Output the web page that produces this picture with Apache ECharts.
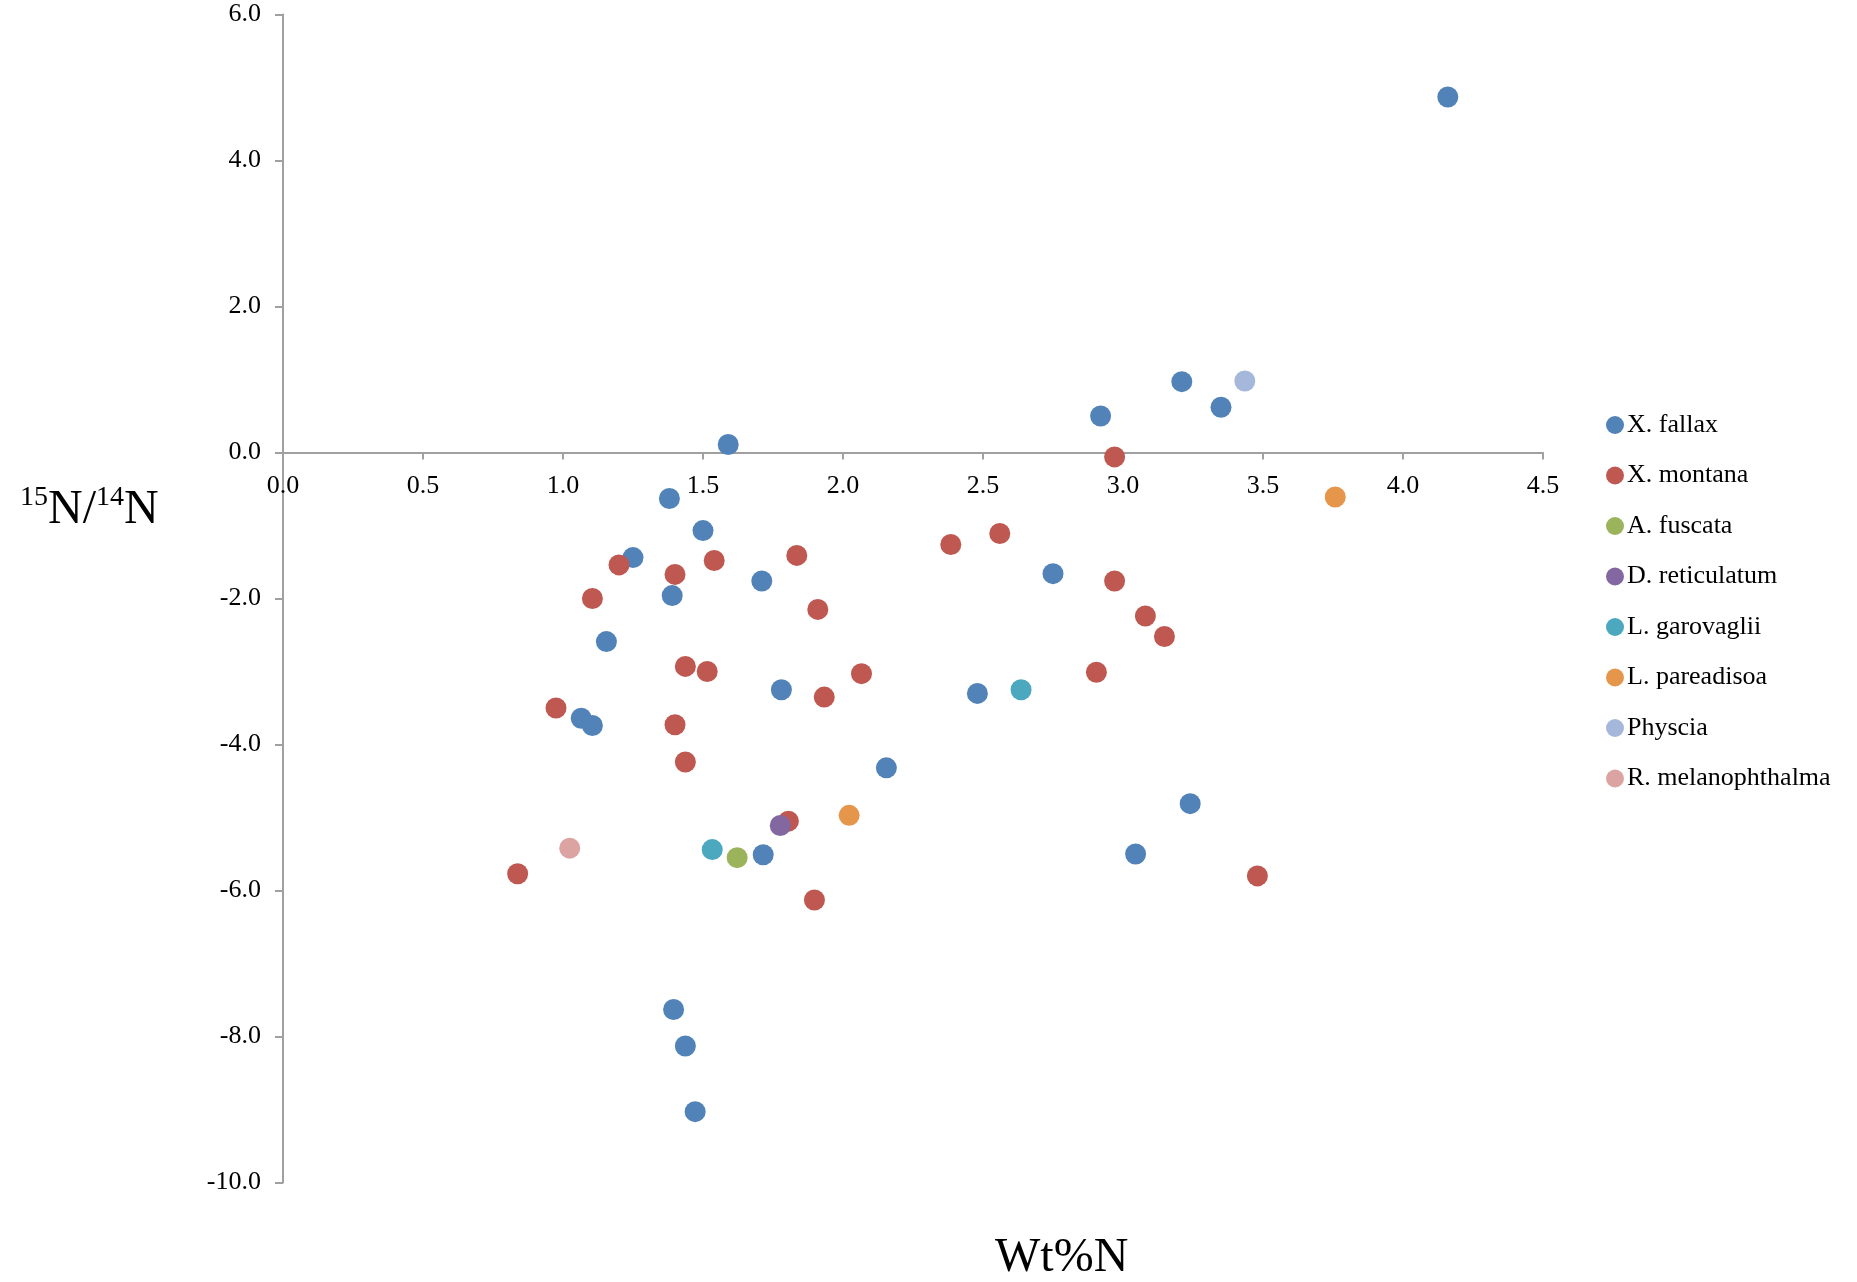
<!DOCTYPE html>
<html>
<head>
<meta charset="utf-8">
<title>15N/14N vs Wt%N</title>
<script src="https://cdn.jsdelivr.net/npm/echarts@6.0.0/dist/echarts.min.js"></script>
<style>
  html, body { margin: 0; padding: 0; background: #fff; }
  #chart { width: 1857px; height: 1282px; }
</style>
</head>
<body>
<div id="chart"></div>
<script>
// [Wt%N, 15N/14N]
const xFallax = [
  [4.16, 4.87], [3.21, 0.97], [2.92, 0.50], [3.35, 0.62], [1.59, 0.11],
  [1.38, -0.63], [1.50, -1.07], [1.25, -1.44], [1.39, -1.96], [1.71, -1.76],
  [2.75, -1.66], [1.155, -2.59], [1.78, -3.25], [2.48, -3.30], [1.065, -3.64],
  [1.105, -3.74], [2.155, -4.32], [3.24, -4.81], [3.045, -5.50], [1.715, -5.51],
  [1.395, -7.63], [1.437, -8.13], [1.472, -9.03]
]
const xMontana = [
  [2.97, -0.06], [2.385, -1.26], [2.56, -1.11], [1.835, -1.41], [1.54, -1.48],
  [1.20, -1.54], [1.40, -1.67], [1.105, -2.00], [1.91, -2.15], [2.97, -1.76],
  [3.08, -2.24], [3.148, -2.52], [2.905, -3.01], [1.437, -2.93], [1.515, -3.00],
  [2.066, -3.03], [1.933, -3.35], [0.975, -3.50], [1.40, -3.73], [1.437, -4.24],
  [1.805, -5.05], [0.838, -5.77], [1.898, -6.13], [3.48, -5.80]
]
const aFuscata = [[1.622, -5.55]]
const dReticulatum = [[1.776, -5.11]]
const lGarovaglii = [[1.533, -5.44], [2.636, -3.25]]
const lPareadisoa = [[2.022, -4.97], [3.758, -0.61]]
const physcia = [[3.435, 0.98]]
const rMelanophthalma = [[1.024, -5.42]]

const seriesNames = ['X. fallax', 'X. montana', 'A. fuscata', 'D. reticulatum',
  'L. garovaglii', 'L. pareadisoa', 'Physcia', 'R. melanophthalma']
const seriesData = [xFallax, xMontana, aFuscata, dReticulatum,
  lGarovaglii, lPareadisoa, physcia, rMelanophthalma]
const palette = ['#5183B9', '#BE5850', '#9BB45C', '#8267A0',
  '#4BA8BF', '#E5964A', '#A5B8DB', '#DBA4A2']

const yMin = -10
const yMax = 6

const serif = "'Liberation Serif', 'Times New Roman', serif"
const axisGray = '#a0a0a0'

const gridTop = 14.5
const gridBottom = 99.5
const chartH = 1282

const chart = echarts.init(document.getElementById('chart'))

// the x axis sits on y = 0, move it up from the bottom of the grid
const plotH = chartH - gridTop - gridBottom
const xAxisOffset = -plotH * (0 - yMin) / (yMax - yMin)

const option = {
  backgroundColor: '#fff',
  animation: false,
  color: palette,
  grid: {
    left: 283,
    right: 314,
    top: gridTop,
    bottom: gridBottom,
    containLabel: false,
    outerBoundsMode: 'none'
  },
  title: [
    {
      // y axis title with superscripts
      text: '{s|15}{b|N/}{s|14}{b|N}',
      left: 20,
      top: 484,
      padding: 0,
      textStyle: {
        fontWeight: 'normal',
        rich: {
          b: { fontFamily: serif, fontSize: 48, fontWeight: 'normal', lineHeight: 52, color: '#000' },
          s: { fontFamily: serif, fontSize: 28, fontWeight: 'normal', lineHeight: 28, color: '#000', verticalAlign: 'top' }
        }
      }
    },
    {
      text: 'Wt%N',
      left: 995,
      top: 1234,
      padding: 0,
      textStyle: { fontFamily: serif, fontSize: 48, fontWeight: 'normal', color: '#000' }
    }
  ],
  legend: {
    orient: 'vertical',
    left: 1606,
    top: 412,
    padding: 0,
    itemWidth: 18,
    itemHeight: 18,
    itemGap: 24.5,
    icon: 'circle',
    data: seriesNames,
    textStyle: { fontFamily: serif, fontSize: 26, lineHeight: 26, color: '#000', padding: [0, 0, 0, -2] }
  },
  xAxis: {
    type: 'value',
    min: 0,
    max: 4.5,
    interval: 0.5,
    offset: xAxisOffset,
    axisLine: { show: true, onZero: false, lineStyle: { color: axisGray, width: 2 } },
    axisTick: { show: true, length: 7, lineStyle: { color: axisGray, width: 2 } },
    axisLabel: {
      margin: 21,
      fontFamily: serif,
      fontSize: 26,
      color: '#000',
      formatter: v => v.toFixed(1)
    },
    splitLine: { show: false }
  },
  yAxis: {
    type: 'value',
    min: yMin,
    max: yMax,
    interval: 2,
    axisLine: { show: true, onZero: false, lineStyle: { color: axisGray, width: 2 } },
    axisTick: { show: true, length: 8, lineStyle: { color: axisGray, width: 2 } },
    axisLabel: {
      margin: 22,
      fontFamily: serif,
      fontSize: 26,
      color: '#000',
      formatter: v => v.toFixed(1)
    },
    splitLine: { show: false }
  },
  series: seriesNames.map((name, i) => ({
    name: name,
    type: 'scatter',
    symbol: 'circle',
    symbolSize: 21,
    itemStyle: { color: palette[i], opacity: 1 },
    data: seriesData[i]
  }))
}

chart.setOption(option)
</script>
</body>
</html>
